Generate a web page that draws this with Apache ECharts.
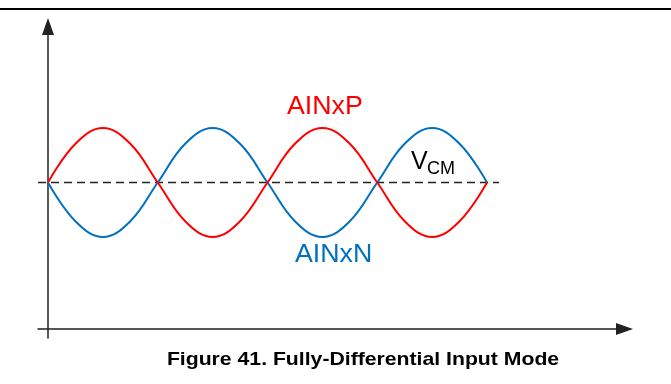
<!DOCTYPE html>
<html>
<head>
<meta charset="utf-8">
<script src="https://cdn.jsdelivr.net/npm/echarts@6/dist/echarts.min.js"></script>
<style>html,body{margin:0;padding:0;background:#fff;}#c{width:671px;height:384px;}</style>
</head>
<body>
<div id="c"></div>
<script>
// x positions in units of half-periods
const xPos = [0, 0.25, 0.5, 0.75, 1, 1.25, 1.5, 1.75, 2, 2.25, 2.5, 2.75, 3, 3.25, 3.5, 3.75, 4];
const ainxP = [0, 0.71, 1, 0.71, 0, -0.71, -1, -0.71, 0, 0.71, 1, 0.71, 0, -0.71, -1, -0.71, 0];
const ainxN = [0, -0.71, -1, -0.71, 0, 0.71, 1, 0.71, 0, -0.71, -1, -0.71, 0, 0.71, 1, 0.71, 0];
const vcmX = [-0.0911, 4.11];
const vcmY = [0, 0];
const labels = { p: 'AINxP', n: 'AINxN', v: 'V', cm: 'CM', caption: 'Figure 41. Fully-Differential Input Mode' };

const FONT = 'Liberation Sans, Arial, sans-serif';
const chart = echarts.init(document.getElementById('c'), null, { renderer: 'canvas' });
chart.setOption({
  animation: false,
  backgroundColor: '#fff',
  grid: { left: 38, top: 26.5, width: 586.5, height: 311.5, containLabel: false },
  xAxis: {
    type: 'value', min: -0.0911, max: 5.253, offset: -9,
    axisLine: { show: true, onZero: false, symbol: ['none', 'triangle'], symbolSize: [12, 17], lineStyle: { color: '#222', width: 1.5 } },
    axisTick: { show: false }, axisLabel: { show: false }, splitLine: { show: false }
  },
  yAxis: {
    type: 'value', min: -2.853, max: 2.862, offset: -10,
    axisLine: { show: true, onZero: false, symbol: ['none', 'triangle'], symbolSize: [12, 17], lineStyle: { color: '#222', width: 1.5 } },
    axisTick: { show: false }, axisLabel: { show: false }, splitLine: { show: false }
  },
  series: [
    { type: 'line', data: vcmX.map((x, i) => [x, vcmY[i]]), symbol: 'none', silent: true,
      lineStyle: { color: '#222', width: 1.5, type: [8, 5] }, z: 1 },
    { type: 'line', data: xPos.map((x, i) => [x, ainxP[i]]), symbol: 'none', smooth: 0.4,
      lineStyle: { color: '#FF0000', width: 2 }, z: 3 },
    { type: 'line', data: xPos.map((x, i) => [x, ainxN[i]]), symbol: 'none', smooth: 0.4,
      lineStyle: { color: '#0070C0', width: 2 }, z: 2 }
  ],
  graphic: [
    { type: 'line', shape: { x1: 0, y1: 9, x2: 671, y2: 9 }, style: { stroke: '#000', lineWidth: 2 } },
    { type: 'text', x: 287, y: 107, scaleX: 1.07, style: { text: labels.p, font: '25px ' + FONT, fill: '#FF0000', textAlign: 'left', textVerticalAlign: 'middle' } },
    { type: 'text', x: 295, y: 255.5, scaleX: 1.07, style: { text: labels.n, font: '25px ' + FONT, fill: '#0070C0', textAlign: 'left', textVerticalAlign: 'middle' } },
    { type: 'text', x: 411, y: 162.5, style: { text: labels.v, font: '25px ' + FONT, fill: '#000', textAlign: 'left', textVerticalAlign: 'middle' } },
    { type: 'text', x: 427, y: 169.5, style: { text: labels.cm, font: '18px ' + FONT, fill: '#000', textAlign: 'left', textVerticalAlign: 'middle' } },
    { type: 'text', x: 363, y: 359.5, scaleX: 1.146, style: { text: labels.caption, font: 'bold 18.5px ' + FONT, fill: '#000', textAlign: 'center', textVerticalAlign: 'middle' } }
  ]
});
</script>
</body>
</html>
